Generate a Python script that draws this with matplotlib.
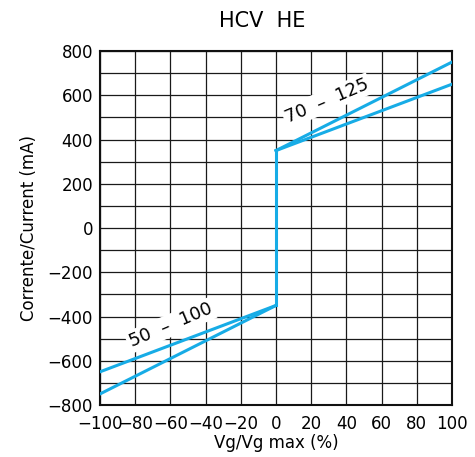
import matplotlib
matplotlib.use("Agg")
import matplotlib.pyplot as plt
import numpy as np

# Vg/Vg max (%) vs current (mA)
x_pos = [0, 100]
y_pos_high = [350, 750]
y_pos_low = [350, 650]
x_neg = [0, -100]
y_neg_high = [-350, -650]
y_neg_low = [-350, -750]
x_step = [0, 0]
y_step = [-350, 350]

label_pos = "70  –  125"
label_neg = "50  –  100"

xticks = np.arange(-100, 101, 20)
yticks = np.arange(-800, 801, 200)

blue = "#17ace6"

fig = plt.figure(figsize=(4.75, 4.57), dpi=100)
ax = fig.add_axes([100 / 475, 1 - 405 / 457, 352 / 475, 354 / 457])

ax.plot(x_pos, y_pos_high, color=blue, lw=2.2, zorder=3)
ax.plot(x_pos, y_pos_low, color=blue, lw=2.2, zorder=3)
ax.plot(x_neg, y_neg_high, color=blue, lw=2.2, zorder=3)
ax.plot(x_neg, y_neg_low, color=blue, lw=2.2, zorder=3)
ax.plot(x_step, y_step, color=blue, lw=2.2, zorder=3)

ax.set_xlim(-100, 100)
ax.set_ylim(-800, 800)
ax.set_xticks(xticks)
ax.set_yticks(yticks)
ax.set_yticks(np.arange(-800, 801, 100), minor=True)
ax.grid(True, which="both", color="#1a1a1a", lw=0.9, zorder=1)
ax.tick_params(which="both", length=0, labelsize=12)
ax.tick_params(axis="x", pad=7)
ax.tick_params(axis="y", pad=5)
for s in ax.spines.values():
    s.set_linewidth(1.5)
    s.set_color("#111111")

ax.set_xticklabels([str(v).replace("-", "−") for v in xticks])
ax.set_yticklabels([str(v).replace("-", "−") for v in yticks])

ax.set_xlabel("Vg/Vg max (%)", fontsize=12, labelpad=1)
ax.set_ylabel("Corrente/Current (mA)", fontsize=12, labelpad=7)
fig.text(0.553, 0.955, "HCV  HE", ha="center", va="center", fontsize=15)

box = dict(facecolor="white", edgecolor="none", pad=1.5)
ax.text(29, 575, label_pos, rotation=23, ha="center", va="center",
        fontsize=13, bbox=box, zorder=2)
ax.text(-60, -440, label_neg, rotation=23, ha="center", va="center",
        fontsize=13, bbox=box, zorder=2)

fig.savefig("out.png", dpi=100)
